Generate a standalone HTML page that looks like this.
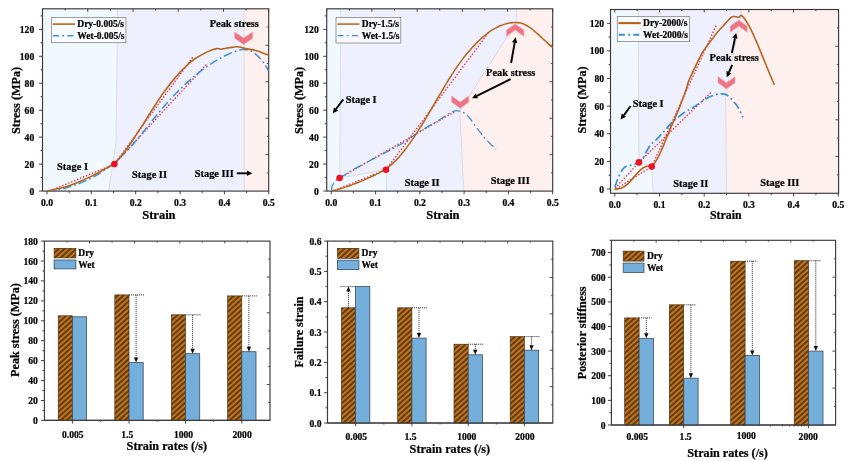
<!DOCTYPE html>
<html><head><meta charset="utf-8"><title>Figure</title>
<style>html,body{margin:0;padding:0;background:#fff;}svg{display:block;filter:blur(0.35px);}</style></head>
<body>
<svg width="864" height="461" viewBox="0 0 864 461">
<rect width="864" height="461" fill="#fff"/>
<defs>
<pattern id="hatch" patternUnits="userSpaceOnUse" width="3.9" height="3.9" patternTransform="rotate(-42)">
<rect width="3.9" height="3.9" fill="#c0751f"/>
<line x1="-1" y1="1.95" x2="4.9" y2="1.95" stroke="#2a1602" stroke-width="1.2"/>
</pattern>
</defs>
<clipPath id="c42"><rect x="42.5" y="8.8" width="226.2" height="182.29999999999998"/></clipPath>
<g clip-path="url(#c42)">
<polygon points="42.5,8.8 117.5,8.8 116.1,141.0 108.7,191.1 42.5,191.1" fill="#f1f9fe"/>
<polygon points="117.5,8.8 244.2,8.8 244.2,191.1 108.7,191.1 116.1,141.0" fill="#eef1fd"/>
<polygon points="244.2,8.8 268.7,8.8 268.7,191.1 244.2,191.1" fill="#fff0f0"/>
<polyline points="117.5,8.8 116.1,141.0 108.7,191.1" fill="none" stroke="#d0d3da" stroke-width="0.7"/>
<polyline points="244.2,8.8 244.2,191.1" fill="none" stroke="#d0d3da" stroke-width="0.7"/>
</g>
<rect x="42.5" y="8.8" width="226.2" height="182.29999999999998" fill="none" stroke="#3a3a3a" stroke-width="1.15"/>
<line x1="47.0" y1="191.1" x2="47.0" y2="194.29999999999998" stroke="#3a3a3a" stroke-width="0.95"/>
<line x1="42.5" y1="8.8" x2="42.5" y2="11.8" stroke="#3a3a3a" stroke-width="0.9"/>
<text x="47.0" y="202.2" font-size="9.6" text-anchor="middle" dominant-baseline="central" fill="#000" stroke="#000" stroke-width="0.22" font-family="Liberation Serif, serif" font-weight="bold">0.0</text>
<line x1="69.2" y1="191.1" x2="69.2" y2="193.1" stroke="#3a3a3a" stroke-width="0.95"/>
<line x1="65.1" y1="8.8" x2="65.1" y2="10.5" stroke="#3a3a3a" stroke-width="0.9"/>
<line x1="91.3" y1="191.1" x2="91.3" y2="194.29999999999998" stroke="#3a3a3a" stroke-width="0.95"/>
<line x1="87.7" y1="8.8" x2="87.7" y2="11.8" stroke="#3a3a3a" stroke-width="0.9"/>
<text x="91.3" y="202.2" font-size="9.6" text-anchor="middle" dominant-baseline="central" fill="#000" stroke="#000" stroke-width="0.22" font-family="Liberation Serif, serif" font-weight="bold">0.1</text>
<line x1="113.5" y1="191.1" x2="113.5" y2="193.1" stroke="#3a3a3a" stroke-width="0.95"/>
<line x1="110.4" y1="8.8" x2="110.4" y2="10.5" stroke="#3a3a3a" stroke-width="0.9"/>
<line x1="135.7" y1="191.1" x2="135.7" y2="194.29999999999998" stroke="#3a3a3a" stroke-width="0.95"/>
<line x1="133.0" y1="8.8" x2="133.0" y2="11.8" stroke="#3a3a3a" stroke-width="0.9"/>
<text x="135.7" y="202.2" font-size="9.6" text-anchor="middle" dominant-baseline="central" fill="#000" stroke="#000" stroke-width="0.22" font-family="Liberation Serif, serif" font-weight="bold">0.2</text>
<line x1="157.9" y1="191.1" x2="157.9" y2="193.1" stroke="#3a3a3a" stroke-width="0.95"/>
<line x1="155.6" y1="8.8" x2="155.6" y2="10.5" stroke="#3a3a3a" stroke-width="0.9"/>
<line x1="180.1" y1="191.1" x2="180.1" y2="194.29999999999998" stroke="#3a3a3a" stroke-width="0.95"/>
<line x1="178.2" y1="8.8" x2="178.2" y2="11.8" stroke="#3a3a3a" stroke-width="0.9"/>
<text x="180.1" y="202.2" font-size="9.6" text-anchor="middle" dominant-baseline="central" fill="#000" stroke="#000" stroke-width="0.22" font-family="Liberation Serif, serif" font-weight="bold">0.3</text>
<line x1="202.2" y1="191.1" x2="202.2" y2="193.1" stroke="#3a3a3a" stroke-width="0.95"/>
<line x1="200.8" y1="8.8" x2="200.8" y2="10.5" stroke="#3a3a3a" stroke-width="0.9"/>
<line x1="224.4" y1="191.1" x2="224.4" y2="194.29999999999998" stroke="#3a3a3a" stroke-width="0.95"/>
<line x1="223.5" y1="8.8" x2="223.5" y2="11.8" stroke="#3a3a3a" stroke-width="0.9"/>
<text x="224.4" y="202.2" font-size="9.6" text-anchor="middle" dominant-baseline="central" fill="#000" stroke="#000" stroke-width="0.22" font-family="Liberation Serif, serif" font-weight="bold">0.4</text>
<line x1="246.6" y1="191.1" x2="246.6" y2="193.1" stroke="#3a3a3a" stroke-width="0.95"/>
<line x1="246.1" y1="8.8" x2="246.1" y2="10.5" stroke="#3a3a3a" stroke-width="0.9"/>
<line x1="268.8" y1="191.1" x2="268.8" y2="194.29999999999998" stroke="#3a3a3a" stroke-width="0.95"/>
<line x1="268.7" y1="8.8" x2="268.7" y2="11.8" stroke="#3a3a3a" stroke-width="0.9"/>
<text x="268.8" y="202.2" font-size="9.6" text-anchor="middle" dominant-baseline="central" fill="#000" stroke="#000" stroke-width="0.22" font-family="Liberation Serif, serif" font-weight="bold">0.5</text>
<line x1="39.0" y1="191.0" x2="42.5" y2="191.0" stroke="#3a3a3a" stroke-width="0.95"/>
<text x="34.2" y="191.0" font-size="9.6" text-anchor="end" dominant-baseline="central" fill="#000" stroke="#000" stroke-width="0.22" font-family="Liberation Serif, serif" font-weight="bold">0</text>
<line x1="40.5" y1="177.5" x2="42.5" y2="177.5" stroke="#3a3a3a" stroke-width="0.95"/>
<line x1="39.0" y1="164.1" x2="42.5" y2="164.1" stroke="#3a3a3a" stroke-width="0.95"/>
<text x="34.2" y="164.1" font-size="9.6" text-anchor="end" dominant-baseline="central" fill="#000" stroke="#000" stroke-width="0.22" font-family="Liberation Serif, serif" font-weight="bold">20</text>
<line x1="40.5" y1="150.6" x2="42.5" y2="150.6" stroke="#3a3a3a" stroke-width="0.95"/>
<line x1="39.0" y1="137.1" x2="42.5" y2="137.1" stroke="#3a3a3a" stroke-width="0.95"/>
<text x="34.2" y="137.1" font-size="9.6" text-anchor="end" dominant-baseline="central" fill="#000" stroke="#000" stroke-width="0.22" font-family="Liberation Serif, serif" font-weight="bold">40</text>
<line x1="40.5" y1="123.7" x2="42.5" y2="123.7" stroke="#3a3a3a" stroke-width="0.95"/>
<line x1="39.0" y1="110.2" x2="42.5" y2="110.2" stroke="#3a3a3a" stroke-width="0.95"/>
<text x="34.2" y="110.2" font-size="9.6" text-anchor="end" dominant-baseline="central" fill="#000" stroke="#000" stroke-width="0.22" font-family="Liberation Serif, serif" font-weight="bold">60</text>
<line x1="40.5" y1="96.7" x2="42.5" y2="96.7" stroke="#3a3a3a" stroke-width="0.95"/>
<line x1="39.0" y1="83.2" x2="42.5" y2="83.2" stroke="#3a3a3a" stroke-width="0.95"/>
<text x="34.2" y="83.2" font-size="9.6" text-anchor="end" dominant-baseline="central" fill="#000" stroke="#000" stroke-width="0.22" font-family="Liberation Serif, serif" font-weight="bold">80</text>
<line x1="40.5" y1="69.8" x2="42.5" y2="69.8" stroke="#3a3a3a" stroke-width="0.95"/>
<line x1="39.0" y1="56.3" x2="42.5" y2="56.3" stroke="#3a3a3a" stroke-width="0.95"/>
<text x="34.2" y="56.3" font-size="9.6" text-anchor="end" dominant-baseline="central" fill="#000" stroke="#000" stroke-width="0.22" font-family="Liberation Serif, serif" font-weight="bold">100</text>
<line x1="40.5" y1="42.8" x2="42.5" y2="42.8" stroke="#3a3a3a" stroke-width="0.95"/>
<line x1="39.0" y1="29.4" x2="42.5" y2="29.4" stroke="#3a3a3a" stroke-width="0.95"/>
<text x="34.2" y="29.4" font-size="9.6" text-anchor="end" dominant-baseline="central" fill="#000" stroke="#000" stroke-width="0.22" font-family="Liberation Serif, serif" font-weight="bold">120</text>
<line x1="40.5" y1="15.9" x2="42.5" y2="15.9" stroke="#3a3a3a" stroke-width="0.95"/>
<line x1="266.9" y1="172.9" x2="268.7" y2="172.9" stroke="#3a3a3a" stroke-width="0.9"/>
<line x1="265.5" y1="154.6" x2="268.7" y2="154.6" stroke="#3a3a3a" stroke-width="0.9"/>
<line x1="266.9" y1="136.4" x2="268.7" y2="136.4" stroke="#3a3a3a" stroke-width="0.9"/>
<line x1="265.5" y1="118.2" x2="268.7" y2="118.2" stroke="#3a3a3a" stroke-width="0.9"/>
<line x1="266.9" y1="100.0" x2="268.7" y2="100.0" stroke="#3a3a3a" stroke-width="0.9"/>
<line x1="265.5" y1="81.7" x2="268.7" y2="81.7" stroke="#3a3a3a" stroke-width="0.9"/>
<line x1="266.9" y1="63.5" x2="268.7" y2="63.5" stroke="#3a3a3a" stroke-width="0.9"/>
<line x1="265.5" y1="45.3" x2="268.7" y2="45.3" stroke="#3a3a3a" stroke-width="0.9"/>
<line x1="266.9" y1="27.0" x2="268.7" y2="27.0" stroke="#3a3a3a" stroke-width="0.9"/>
<line x1="51.0" y1="190.4" x2="114.4" y2="164.1" stroke="#e63a48" stroke-width="1.65" stroke-linecap="round" stroke-dasharray="0.01 3.2"/>
<line x1="114.4" y1="164.1" x2="192.8" y2="57.2" stroke="#e63a48" stroke-width="1.65" stroke-linecap="round" stroke-dasharray="0.01 3.2"/>
<line x1="114.4" y1="164.1" x2="207.8" y2="63.0" stroke="#e63a48" stroke-width="1.65" stroke-linecap="round" stroke-dasharray="0.01 3.2"/>
<g clip-path="url(#c42)">
<path d="M47.0,191.0 C47.8,190.9 50.4,190.7 52.1,190.5 C53.8,190.3 55.5,190.1 57.2,189.8 C58.9,189.5 60.6,189.2 62.2,188.8 C63.9,188.4 65.6,188.0 67.3,187.5 C68.9,187.1 70.6,186.6 72.3,186.0 C73.9,185.5 75.6,184.9 77.2,184.3 C78.8,183.7 80.5,183.1 82.1,182.4 C83.7,181.7 85.3,181.0 86.9,180.2 C88.5,179.5 90.0,178.7 91.6,177.9 C93.1,177.1 94.7,176.2 96.2,175.3 C97.7,174.5 99.2,173.6 100.7,172.6 C102.1,171.7 103.6,170.7 105.0,169.8 C106.4,168.8 107.8,167.8 109.2,166.7 C110.6,165.7 112.0,164.6 113.3,163.6 C114.6,162.5 115.9,161.4 117.2,160.3 C118.5,159.1 119.7,158.0 120.9,156.8 C122.2,155.7 123.4,154.5 124.5,153.3 C125.7,152.1 126.9,150.9 128.0,149.7 C129.2,148.5 130.3,147.2 131.4,146.0 C132.6,144.7 133.7,143.5 134.8,142.2 C135.8,140.9 136.9,139.6 138.0,138.3 C139.1,137.0 140.2,135.7 141.2,134.4 C142.3,133.1 143.3,131.8 144.4,130.5 C145.5,129.1 146.5,127.8 147.6,126.5 C148.6,125.1 149.7,123.8 150.8,122.5 C151.8,121.1 152.9,119.8 154.0,118.4 C155.1,117.1 156.2,115.8 157.3,114.4 C158.4,113.1 159.5,111.8 160.6,110.4 C161.7,109.1 162.8,107.8 164.0,106.4 C165.1,105.1 166.3,103.8 167.5,102.5 C168.6,101.2 169.8,99.9 171.0,98.6 C172.2,97.3 173.4,96.0 174.6,94.7 C175.8,93.5 177.1,92.2 178.3,90.9 C179.6,89.7 180.8,88.5 182.1,87.2 C183.4,86.0 184.6,84.8 185.9,83.6 C187.2,82.4 188.5,81.2 189.9,80.1 C191.2,78.9 192.5,77.8 193.8,76.6 C195.2,75.5 196.5,74.4 197.9,73.3 C199.3,72.2 200.6,71.2 202.0,70.1 C203.4,69.1 204.8,68.1 206.2,67.1 C207.6,66.1 209.1,65.1 210.5,64.2 C211.9,63.2 213.4,62.3 214.8,61.4 C216.3,60.5 217.8,59.7 219.3,58.8 C220.7,58.0 222.2,57.2 223.7,56.4 C225.2,55.7 226.8,54.9 228.3,54.2 C229.8,53.5 231.4,52.8 232.9,52.2 C234.4,51.6 236.0,51.0 237.5,50.6 C239.1,50.1 240.6,49.8 242.2,49.6 C243.7,49.5 245.2,49.5 246.7,49.7 C248.2,50.0 249.7,50.4 251.1,51.1 C252.5,51.8 253.9,52.7 255.3,53.8 C256.6,54.8 257.9,56.1 259.2,57.4 C260.4,58.7 261.6,60.2 262.8,61.7 C263.9,63.2 265.0,64.7 266.0,66.3 C266.9,67.8 268.2,70.1 268.7,70.9" fill="none" stroke="#3f8fd0" stroke-width="1.5" stroke-dasharray="8.5 3 1.8 3"/>
<path d="M47.0,191.0 C49.2,190.5 56.0,189.2 60.0,188.2 C64.0,187.2 67.4,186.2 71.1,184.9 C74.8,183.6 78.5,182.0 82.2,180.4 C85.9,178.8 89.6,177.2 93.3,175.4 C97.0,173.6 101.6,170.8 104.4,169.3 C107.2,167.8 108.3,167.2 110.0,166.3 C111.7,165.4 113.1,165.1 114.4,164.1 C115.7,163.1 116.7,161.5 117.8,160.1 C119.0,158.8 120.1,157.4 121.2,156.1 C122.3,154.7 123.3,153.3 124.4,151.9 C125.5,150.5 126.5,149.1 127.5,147.7 C128.5,146.2 129.6,144.8 130.6,143.3 C131.6,141.9 132.6,140.4 133.5,139.0 C134.5,137.5 135.5,136.1 136.4,134.6 C137.4,133.1 138.4,131.6 139.3,130.1 C140.3,128.7 141.2,127.2 142.2,125.7 C143.1,124.2 144.0,122.7 145.0,121.2 C145.9,119.7 146.9,118.2 147.8,116.7 C148.7,115.2 149.7,113.7 150.6,112.2 C151.6,110.7 152.5,109.2 153.5,107.8 C154.4,106.3 155.4,104.8 156.3,103.3 C157.3,101.9 158.3,100.4 159.3,98.9 C160.2,97.5 161.2,96.0 162.2,94.6 C163.2,93.2 164.3,91.7 165.3,90.3 C166.3,88.9 167.4,87.5 168.4,86.1 C169.5,84.7 170.6,83.3 171.6,82.0 C172.7,80.6 173.9,79.3 175.0,77.9 C176.1,76.6 177.3,75.3 178.5,74.0 C179.6,72.7 180.8,71.4 182.1,70.2 C183.3,68.9 184.5,67.7 185.8,66.5 C187.1,65.3 188.4,64.1 189.7,62.9 C191.0,61.8 191.5,61.1 193.8,59.5 C196.1,57.9 200.8,55.2 203.8,53.6 C206.8,52.0 209.6,50.8 211.8,50.0 C214.0,49.2 215.1,48.8 216.8,48.6 C218.5,48.4 219.7,49.2 221.8,49.0 C224.0,48.8 227.0,48.0 229.7,47.6 C232.3,47.2 235.0,46.6 237.7,46.8 C240.4,47.0 242.7,48.0 245.7,48.6 C248.7,49.2 251.9,49.5 255.7,50.6 C259.5,51.7 266.5,54.5 268.7,55.3" fill="none" stroke="#b5651d" stroke-width="1.6"/>
</g>
<circle cx="114.4" cy="164.1" r="3.3" fill="#f01020"/>
<rect x="51.5" y="17.5" width="74.4" height="25.2" fill="#fff" fill-opacity="0.55" stroke="#777" stroke-width="0.7"/>
<line x1="52.7" y1="24.1" x2="75.0" y2="24.1" stroke="#b5651d" stroke-width="1.6"/>
<line x1="53.0" y1="35.7" x2="75.0" y2="35.7" stroke="#3f8fd0" stroke-width="1.5" stroke-dasharray="6 3.3 1.8 3.3"/>
<text x="77.3" y="24.1" font-size="9.5" text-anchor="start" dominant-baseline="central" fill="#000" stroke="#000" stroke-width="0.22" font-family="Liberation Serif, serif" font-weight="bold">Dry-0.005/s</text>
<text x="77.3" y="35.7" font-size="9.5" text-anchor="start" dominant-baseline="central" fill="#000" stroke="#000" stroke-width="0.22" font-family="Liberation Serif, serif" font-weight="bold">Wet-0.005/s</text>
<text x="72.5" y="166.3" font-size="10.4" text-anchor="middle" dominant-baseline="central" fill="#000" stroke="#000" stroke-width="0.22" font-family="Liberation Serif, serif" font-weight="bold">Stage I</text>
<text x="149.5" y="174.0" font-size="10.4" text-anchor="middle" dominant-baseline="central" fill="#000" stroke="#000" stroke-width="0.22" font-family="Liberation Serif, serif" font-weight="bold">Stage II</text>
<text x="214.2" y="173.7" font-size="10.4" text-anchor="middle" dominant-baseline="central" fill="#000" stroke="#000" stroke-width="0.22" font-family="Liberation Serif, serif" font-weight="bold">Stage III</text>
<text x="234.3" y="23.3" font-size="10.4" text-anchor="middle" dominant-baseline="central" fill="#000" stroke="#000" stroke-width="0.22" font-family="Liberation Serif, serif" font-weight="bold">Peak stress</text>
<text x="158.9" y="214.8" font-size="12.5" text-anchor="middle" dominant-baseline="central" fill="#000" stroke="#000" stroke-width="0.22" font-family="Liberation Serif, serif" font-weight="bold">Strain</text>
<text x="15.6" y="100.5" font-size="12.2" text-anchor="middle" dominant-baseline="central" fill="#000" stroke="#000" stroke-width="0.22" font-family="Liberation Serif, serif" font-weight="bold" transform="rotate(-90 15.6 100.5)">Stress (MPa)</text>
<polygon points="234.7,32.0 243.7,38.1 252.7,32.0 252.7,38.3 243.7,44.4 234.7,38.3" fill="#ec7485" stroke="#f4a3ae" stroke-width="0.7"/>
<line x1="236.7" y1="173.3" x2="246.9" y2="173.3" stroke="#000" stroke-width="1.9"/>
<polygon points="252.4,173.3 246.9,176.0 246.9,170.6" fill="#000"/>
<clipPath id="c326"><rect x="326.7" y="8.8" width="226.00000000000006" height="182.29999999999998"/></clipPath>
<g clip-path="url(#c326)">
<polygon points="326.7,8.8 552.7,8.8 552.7,191.1 326.7,191.1" fill="#eef1fd"/>
<polygon points="326.7,8.8 340.8,8.8 339.6,178.0 386.0,169.7 386.6,191.1 326.7,191.1" fill="#f1f9fe"/>
<polygon points="516.7,8.8 552.7,8.8 552.7,191.1 463.8,191.1 459.8,111.0 516.7,22.0" fill="#fff0f0"/>
<polyline points="340.8,8.8 339.6,178.0 386.0,169.7 386.6,191.1" fill="none" stroke="#d0d3da" stroke-width="0.7"/>
<polyline points="516.7,8.8 516.7,22.0 459.8,111.0 463.8,191.1" fill="none" stroke="#d0d3da" stroke-width="0.7"/>
</g>
<rect x="326.7" y="8.8" width="226.00000000000006" height="182.29999999999998" fill="none" stroke="#3a3a3a" stroke-width="1.15"/>
<line x1="331.3" y1="191.1" x2="331.3" y2="194.29999999999998" stroke="#3a3a3a" stroke-width="0.95"/>
<line x1="326.7" y1="8.8" x2="326.7" y2="11.8" stroke="#3a3a3a" stroke-width="0.9"/>
<text x="331.3" y="202.2" font-size="9.6" text-anchor="middle" dominant-baseline="central" fill="#000" stroke="#000" stroke-width="0.22" font-family="Liberation Serif, serif" font-weight="bold">0.0</text>
<line x1="353.4" y1="191.1" x2="353.4" y2="193.1" stroke="#3a3a3a" stroke-width="0.95"/>
<line x1="349.3" y1="8.8" x2="349.3" y2="10.5" stroke="#3a3a3a" stroke-width="0.9"/>
<line x1="375.6" y1="191.1" x2="375.6" y2="194.29999999999998" stroke="#3a3a3a" stroke-width="0.95"/>
<line x1="371.9" y1="8.8" x2="371.9" y2="11.8" stroke="#3a3a3a" stroke-width="0.9"/>
<text x="375.6" y="202.2" font-size="9.6" text-anchor="middle" dominant-baseline="central" fill="#000" stroke="#000" stroke-width="0.22" font-family="Liberation Serif, serif" font-weight="bold">0.1</text>
<line x1="397.7" y1="191.1" x2="397.7" y2="193.1" stroke="#3a3a3a" stroke-width="0.95"/>
<line x1="394.5" y1="8.8" x2="394.5" y2="10.5" stroke="#3a3a3a" stroke-width="0.9"/>
<line x1="419.9" y1="191.1" x2="419.9" y2="194.29999999999998" stroke="#3a3a3a" stroke-width="0.95"/>
<line x1="417.1" y1="8.8" x2="417.1" y2="11.8" stroke="#3a3a3a" stroke-width="0.9"/>
<text x="419.9" y="202.2" font-size="9.6" text-anchor="middle" dominant-baseline="central" fill="#000" stroke="#000" stroke-width="0.22" font-family="Liberation Serif, serif" font-weight="bold">0.2</text>
<line x1="442.0" y1="191.1" x2="442.0" y2="193.1" stroke="#3a3a3a" stroke-width="0.95"/>
<line x1="439.7" y1="8.8" x2="439.7" y2="10.5" stroke="#3a3a3a" stroke-width="0.9"/>
<line x1="464.1" y1="191.1" x2="464.1" y2="194.29999999999998" stroke="#3a3a3a" stroke-width="0.95"/>
<line x1="462.3" y1="8.8" x2="462.3" y2="11.8" stroke="#3a3a3a" stroke-width="0.9"/>
<text x="464.1" y="202.2" font-size="9.6" text-anchor="middle" dominant-baseline="central" fill="#000" stroke="#000" stroke-width="0.22" font-family="Liberation Serif, serif" font-weight="bold">0.3</text>
<line x1="486.3" y1="191.1" x2="486.3" y2="193.1" stroke="#3a3a3a" stroke-width="0.95"/>
<line x1="484.9" y1="8.8" x2="484.9" y2="10.5" stroke="#3a3a3a" stroke-width="0.9"/>
<line x1="508.4" y1="191.1" x2="508.4" y2="194.29999999999998" stroke="#3a3a3a" stroke-width="0.95"/>
<line x1="507.5" y1="8.8" x2="507.5" y2="11.8" stroke="#3a3a3a" stroke-width="0.9"/>
<text x="508.4" y="202.2" font-size="9.6" text-anchor="middle" dominant-baseline="central" fill="#000" stroke="#000" stroke-width="0.22" font-family="Liberation Serif, serif" font-weight="bold">0.4</text>
<line x1="530.6" y1="191.1" x2="530.6" y2="193.1" stroke="#3a3a3a" stroke-width="0.95"/>
<line x1="530.1" y1="8.8" x2="530.1" y2="10.5" stroke="#3a3a3a" stroke-width="0.9"/>
<line x1="552.7" y1="191.1" x2="552.7" y2="194.29999999999998" stroke="#3a3a3a" stroke-width="0.95"/>
<line x1="552.7" y1="8.8" x2="552.7" y2="11.8" stroke="#3a3a3a" stroke-width="0.9"/>
<text x="552.7" y="202.2" font-size="9.6" text-anchor="middle" dominant-baseline="central" fill="#000" stroke="#000" stroke-width="0.22" font-family="Liberation Serif, serif" font-weight="bold">0.5</text>
<line x1="323.2" y1="191.0" x2="326.7" y2="191.0" stroke="#3a3a3a" stroke-width="0.95"/>
<text x="318.7" y="191.0" font-size="9.6" text-anchor="end" dominant-baseline="central" fill="#000" stroke="#000" stroke-width="0.22" font-family="Liberation Serif, serif" font-weight="bold">0</text>
<line x1="324.7" y1="177.5" x2="326.7" y2="177.5" stroke="#3a3a3a" stroke-width="0.95"/>
<line x1="323.2" y1="164.1" x2="326.7" y2="164.1" stroke="#3a3a3a" stroke-width="0.95"/>
<text x="318.7" y="164.1" font-size="9.6" text-anchor="end" dominant-baseline="central" fill="#000" stroke="#000" stroke-width="0.22" font-family="Liberation Serif, serif" font-weight="bold">20</text>
<line x1="324.7" y1="150.6" x2="326.7" y2="150.6" stroke="#3a3a3a" stroke-width="0.95"/>
<line x1="323.2" y1="137.1" x2="326.7" y2="137.1" stroke="#3a3a3a" stroke-width="0.95"/>
<text x="318.7" y="137.1" font-size="9.6" text-anchor="end" dominant-baseline="central" fill="#000" stroke="#000" stroke-width="0.22" font-family="Liberation Serif, serif" font-weight="bold">40</text>
<line x1="324.7" y1="123.7" x2="326.7" y2="123.7" stroke="#3a3a3a" stroke-width="0.95"/>
<line x1="323.2" y1="110.2" x2="326.7" y2="110.2" stroke="#3a3a3a" stroke-width="0.95"/>
<text x="318.7" y="110.2" font-size="9.6" text-anchor="end" dominant-baseline="central" fill="#000" stroke="#000" stroke-width="0.22" font-family="Liberation Serif, serif" font-weight="bold">60</text>
<line x1="324.7" y1="96.7" x2="326.7" y2="96.7" stroke="#3a3a3a" stroke-width="0.95"/>
<line x1="323.2" y1="83.2" x2="326.7" y2="83.2" stroke="#3a3a3a" stroke-width="0.95"/>
<text x="318.7" y="83.2" font-size="9.6" text-anchor="end" dominant-baseline="central" fill="#000" stroke="#000" stroke-width="0.22" font-family="Liberation Serif, serif" font-weight="bold">80</text>
<line x1="324.7" y1="69.8" x2="326.7" y2="69.8" stroke="#3a3a3a" stroke-width="0.95"/>
<line x1="323.2" y1="56.3" x2="326.7" y2="56.3" stroke="#3a3a3a" stroke-width="0.95"/>
<text x="318.7" y="56.3" font-size="9.6" text-anchor="end" dominant-baseline="central" fill="#000" stroke="#000" stroke-width="0.22" font-family="Liberation Serif, serif" font-weight="bold">100</text>
<line x1="324.7" y1="42.8" x2="326.7" y2="42.8" stroke="#3a3a3a" stroke-width="0.95"/>
<line x1="323.2" y1="29.4" x2="326.7" y2="29.4" stroke="#3a3a3a" stroke-width="0.95"/>
<text x="318.7" y="29.4" font-size="9.6" text-anchor="end" dominant-baseline="central" fill="#000" stroke="#000" stroke-width="0.22" font-family="Liberation Serif, serif" font-weight="bold">120</text>
<line x1="324.7" y1="15.9" x2="326.7" y2="15.9" stroke="#3a3a3a" stroke-width="0.95"/>
<line x1="550.9000000000001" y1="172.9" x2="552.7" y2="172.9" stroke="#3a3a3a" stroke-width="0.9"/>
<line x1="549.5" y1="154.6" x2="552.7" y2="154.6" stroke="#3a3a3a" stroke-width="0.9"/>
<line x1="550.9000000000001" y1="136.4" x2="552.7" y2="136.4" stroke="#3a3a3a" stroke-width="0.9"/>
<line x1="549.5" y1="118.2" x2="552.7" y2="118.2" stroke="#3a3a3a" stroke-width="0.9"/>
<line x1="550.9000000000001" y1="100.0" x2="552.7" y2="100.0" stroke="#3a3a3a" stroke-width="0.9"/>
<line x1="549.5" y1="81.7" x2="552.7" y2="81.7" stroke="#3a3a3a" stroke-width="0.9"/>
<line x1="550.9000000000001" y1="63.5" x2="552.7" y2="63.5" stroke="#3a3a3a" stroke-width="0.9"/>
<line x1="549.5" y1="45.3" x2="552.7" y2="45.3" stroke="#3a3a3a" stroke-width="0.9"/>
<line x1="550.9000000000001" y1="27.0" x2="552.7" y2="27.0" stroke="#3a3a3a" stroke-width="0.9"/>
<line x1="335.0" y1="190.2" x2="386.0" y2="169.7" stroke="#e63a48" stroke-width="1.65" stroke-linecap="round" stroke-dasharray="0.01 3.2"/>
<line x1="386.0" y1="169.7" x2="488.3" y2="32.9" stroke="#e63a48" stroke-width="1.65" stroke-linecap="round" stroke-dasharray="0.01 3.2"/>
<line x1="339.6" y1="178.0" x2="456.0" y2="111.0" stroke="#e63a48" stroke-width="1.65" stroke-linecap="round" stroke-dasharray="0.01 3.2"/>
<g clip-path="url(#c326)">
<path d="M331.5,191.0 C331.6,190.4 331.6,188.5 331.8,187.5 C332.0,186.5 332.1,186.1 332.7,185.0 C333.3,183.9 334.4,182.2 335.5,181.0 C336.6,179.8 336.6,179.9 339.6,178.0 C342.7,176.1 348.7,172.2 353.8,169.3 C358.9,166.4 364.8,163.4 370.4,160.4 C375.9,157.4 381.5,154.6 387.1,151.6 C392.7,148.6 398.2,145.9 403.8,142.5 C409.4,139.1 414.8,134.7 420.4,131.1 C425.9,127.5 432.0,124.2 437.1,121.1 C442.2,118.0 448.0,114.1 451.1,112.4 C454.2,110.7 454.5,111.1 456.0,110.9 C457.5,110.7 458.4,110.6 460.0,111.1 C461.6,111.6 463.8,112.4 465.6,113.9 C467.5,115.4 468.9,117.2 471.1,120.0 C473.3,122.8 476.3,127.3 478.9,130.6 C481.5,133.9 483.8,136.9 486.7,140.0 C489.6,143.1 494.4,147.8 496.0,149.3" fill="none" stroke="#3f8fd0" stroke-width="1.3" stroke-dasharray="8.5 3 1.8 3"/>
<path d="M331.6,191.0 C332.4,190.8 334.8,190.3 336.5,189.9 C338.1,189.5 339.7,189.0 341.4,188.5 C343.0,188.0 344.7,187.5 346.4,186.9 C348.0,186.3 349.7,185.7 351.3,185.1 C353.0,184.5 354.7,183.8 356.3,183.2 C358.0,182.5 359.6,181.8 361.2,181.1 C362.9,180.5 364.5,179.8 366.1,179.1 C367.7,178.3 369.3,177.6 370.9,176.9 C372.4,176.2 374.0,175.4 375.5,174.7 C377.1,173.9 378.6,173.1 380.0,172.3 C381.5,171.4 383.0,170.6 384.4,169.7 C385.8,168.7 387.2,167.8 388.5,166.8 C389.9,165.8 391.2,164.7 392.4,163.6 C393.7,162.4 394.9,161.3 396.2,160.1 C397.4,158.8 398.5,157.6 399.7,156.3 C400.8,155.0 401.9,153.7 403.0,152.3 C404.1,151.0 405.2,149.6 406.2,148.2 C407.3,146.8 408.3,145.3 409.3,143.9 C410.3,142.5 411.3,141.1 412.3,139.6 C413.3,138.2 414.3,136.7 415.2,135.3 C416.2,133.8 417.1,132.4 418.1,130.9 C419.0,129.4 419.9,128.0 420.9,126.5 C421.8,125.0 422.7,123.5 423.6,122.1 C424.5,120.6 425.4,119.1 426.3,117.6 C427.2,116.1 428.1,114.6 428.9,113.1 C429.8,111.7 430.7,110.2 431.6,108.7 C432.4,107.2 433.3,105.7 434.2,104.2 C435.0,102.7 435.9,101.2 436.8,99.7 C437.7,98.2 438.5,96.7 439.4,95.2 C440.3,93.8 441.1,92.3 442.0,90.8 C442.9,89.3 443.8,87.8 444.6,86.3 C445.5,84.9 446.4,83.4 447.3,81.9 C448.2,80.5 449.1,79.0 450.0,77.5 C451.0,76.1 451.9,74.6 452.8,73.2 C453.8,71.7 454.7,70.3 455.7,68.9 C456.7,67.4 457.6,66.0 458.6,64.6 C459.6,63.2 460.6,61.8 461.7,60.4 C462.7,59.0 463.8,57.7 464.8,56.3 C465.9,54.9 467.0,53.6 468.1,52.3 C469.3,50.9 470.4,49.6 471.6,48.3 C472.8,47.0 474.0,45.7 475.2,44.4 C476.4,43.1 477.7,41.9 478.9,40.7 C480.2,39.4 481.5,38.2 482.8,37.1 C484.2,35.9 485.5,34.8 486.9,33.8 C488.3,32.7 489.7,31.7 491.1,30.7 C492.6,29.8 494.0,28.9 495.5,28.1 C497.0,27.2 498.5,26.5 500.1,25.8 C501.6,25.2 503.1,24.6 504.7,24.1 C506.3,23.6 507.9,23.2 509.5,22.9 C511.1,22.6 512.8,22.4 514.4,22.4 C516.0,22.4 517.7,22.5 519.3,22.8 C520.9,23.1 522.6,23.6 524.2,24.2 C525.8,24.9 527.4,25.8 528.9,26.8 C530.5,27.8 532.0,29.1 533.5,30.3 C535.0,31.5 536.4,32.9 537.8,34.1 C539.2,35.4 540.6,36.6 541.9,37.8 C543.2,39.0 544.4,40.2 545.7,41.3 C546.9,42.5 548.1,43.6 549.3,44.6 C550.5,45.7 552.2,47.4 552.8,47.9" fill="none" stroke="#b5651d" stroke-width="1.5"/>
</g>
<circle cx="339.6" cy="178.0" r="3.3" fill="#f01020"/>
<circle cx="386.0" cy="169.7" r="3.3" fill="#f01020"/>
<rect x="336" y="17.5" width="64.8" height="25.5" fill="#fff" fill-opacity="0.55" stroke="#777" stroke-width="0.7"/>
<line x1="337.2" y1="24.1" x2="359.5" y2="24.1" stroke="#b5651d" stroke-width="1.5"/>
<line x1="337.5" y1="35.7" x2="359.5" y2="35.7" stroke="#3f8fd0" stroke-width="1.3" stroke-dasharray="6 3.3 1.8 3.3"/>
<text x="361.8" y="24.1" font-size="9.5" text-anchor="start" dominant-baseline="central" fill="#000" stroke="#000" stroke-width="0.22" font-family="Liberation Serif, serif" font-weight="bold">Dry-1.5/s</text>
<text x="361.8" y="35.7" font-size="9.5" text-anchor="start" dominant-baseline="central" fill="#000" stroke="#000" stroke-width="0.22" font-family="Liberation Serif, serif" font-weight="bold">Wet-1.5/s</text>
<text x="361.2" y="99.4" font-size="10.4" text-anchor="middle" dominant-baseline="central" fill="#000" stroke="#000" stroke-width="0.22" font-family="Liberation Serif, serif" font-weight="bold">Stage I</text>
<text x="422.2" y="182.0" font-size="10.4" text-anchor="middle" dominant-baseline="central" fill="#000" stroke="#000" stroke-width="0.22" font-family="Liberation Serif, serif" font-weight="bold">Stage II</text>
<text x="510.2" y="180.6" font-size="10.4" text-anchor="middle" dominant-baseline="central" fill="#000" stroke="#000" stroke-width="0.22" font-family="Liberation Serif, serif" font-weight="bold">Stage III</text>
<text x="510.7" y="72.0" font-size="10.4" text-anchor="middle" dominant-baseline="central" fill="#000" stroke="#000" stroke-width="0.22" font-family="Liberation Serif, serif" font-weight="bold">Peak stress</text>
<text x="442.9" y="214.8" font-size="12.5" text-anchor="middle" dominant-baseline="central" fill="#000" stroke="#000" stroke-width="0.22" font-family="Liberation Serif, serif" font-weight="bold">Strain</text>
<text x="299.2" y="100.5" font-size="12.2" text-anchor="middle" dominant-baseline="central" fill="#000" stroke="#000" stroke-width="0.22" font-family="Liberation Serif, serif" font-weight="bold" transform="rotate(-90 299.2 100.5)">Stress (MPa)</text>
<polygon points="506.5,36.2 515.2,30.1 523.9,36.2 523.9,30.1 515.2,24.0 506.5,30.1" fill="#ec7485" stroke="#f4a3ae" stroke-width="0.7"/>
<polygon points="451.6,96.0 460.2,102.1 468.8,96.0 468.8,102.1 460.2,108.2 451.6,102.1" fill="#ec7485" stroke="#f4a3ae" stroke-width="0.7"/>
<line x1="511.1" y1="63.0" x2="514.7" y2="42.7" stroke="#000" stroke-width="1.9"/>
<polygon points="515.6,37.3 517.3,43.2 512.0,42.3" fill="#000"/>
<line x1="510.6" y1="79.1" x2="476.9" y2="95.9" stroke="#000" stroke-width="1.9"/>
<polygon points="472.0,98.3 475.7,93.4 478.1,98.3" fill="#000"/>
<line x1="343.3" y1="99.4" x2="336.0" y2="109.0" stroke="#000" stroke-width="1.9"/>
<polygon points="332.7,113.4 333.9,107.4 338.2,110.6" fill="#000"/>
<clipPath id="c610"><rect x="610.5" y="9.5" width="228.10000000000002" height="183.8"/></clipPath>
<g clip-path="url(#c610)">
<polygon points="610.5,9.5 838.6,9.5 838.6,193.3 610.5,193.3" fill="#eef1fd"/>
<polygon points="610.5,9.5 638.2,9.5 638.9,162.4 651.7,166.6 653.3,193.3 610.5,193.3" fill="#f1f9fe"/>
<polygon points="741.0,9.5 838.6,9.5 838.6,193.3 726.5,193.3 725.6,94.0 741.0,15.4" fill="#fff0f0"/>
<polyline points="638.2,9.5 638.9,162.4 651.7,166.6 653.3,193.3" fill="none" stroke="#d0d3da" stroke-width="0.7"/>
<polyline points="741.0,9.5 741.0,15.4 725.6,94.0 726.5,193.3" fill="none" stroke="#d0d3da" stroke-width="0.7"/>
</g>
<rect x="610.5" y="9.5" width="228.10000000000002" height="183.8" fill="none" stroke="#3a3a3a" stroke-width="1.15"/>
<line x1="614.8" y1="193.3" x2="614.8" y2="196.5" stroke="#3a3a3a" stroke-width="0.95"/>
<line x1="614.8" y1="9.5" x2="614.8" y2="12.5" stroke="#3a3a3a" stroke-width="0.9"/>
<text x="614.8" y="204.8" font-size="9.6" text-anchor="middle" dominant-baseline="central" fill="#000" stroke="#000" stroke-width="0.22" font-family="Liberation Serif, serif" font-weight="bold">0.0</text>
<line x1="637.1" y1="193.3" x2="637.1" y2="195.3" stroke="#3a3a3a" stroke-width="0.95"/>
<line x1="637.1" y1="9.5" x2="637.1" y2="11.2" stroke="#3a3a3a" stroke-width="0.9"/>
<line x1="659.5" y1="193.3" x2="659.5" y2="196.5" stroke="#3a3a3a" stroke-width="0.95"/>
<line x1="659.5" y1="9.5" x2="659.5" y2="12.5" stroke="#3a3a3a" stroke-width="0.9"/>
<text x="659.5" y="204.8" font-size="9.6" text-anchor="middle" dominant-baseline="central" fill="#000" stroke="#000" stroke-width="0.22" font-family="Liberation Serif, serif" font-weight="bold">0.1</text>
<line x1="681.8" y1="193.3" x2="681.8" y2="195.3" stroke="#3a3a3a" stroke-width="0.95"/>
<line x1="681.8" y1="9.5" x2="681.8" y2="11.2" stroke="#3a3a3a" stroke-width="0.9"/>
<line x1="704.2" y1="193.3" x2="704.2" y2="196.5" stroke="#3a3a3a" stroke-width="0.95"/>
<line x1="704.2" y1="9.5" x2="704.2" y2="12.5" stroke="#3a3a3a" stroke-width="0.9"/>
<text x="704.2" y="204.8" font-size="9.6" text-anchor="middle" dominant-baseline="central" fill="#000" stroke="#000" stroke-width="0.22" font-family="Liberation Serif, serif" font-weight="bold">0.2</text>
<line x1="726.5" y1="193.3" x2="726.5" y2="195.3" stroke="#3a3a3a" stroke-width="0.95"/>
<line x1="726.5" y1="9.5" x2="726.5" y2="11.2" stroke="#3a3a3a" stroke-width="0.9"/>
<line x1="748.9" y1="193.3" x2="748.9" y2="196.5" stroke="#3a3a3a" stroke-width="0.95"/>
<line x1="748.9" y1="9.5" x2="748.9" y2="12.5" stroke="#3a3a3a" stroke-width="0.9"/>
<text x="748.9" y="204.8" font-size="9.6" text-anchor="middle" dominant-baseline="central" fill="#000" stroke="#000" stroke-width="0.22" font-family="Liberation Serif, serif" font-weight="bold">0.3</text>
<line x1="771.2" y1="193.3" x2="771.2" y2="195.3" stroke="#3a3a3a" stroke-width="0.95"/>
<line x1="771.2" y1="9.5" x2="771.2" y2="11.2" stroke="#3a3a3a" stroke-width="0.9"/>
<line x1="793.6" y1="193.3" x2="793.6" y2="196.5" stroke="#3a3a3a" stroke-width="0.95"/>
<line x1="793.6" y1="9.5" x2="793.6" y2="12.5" stroke="#3a3a3a" stroke-width="0.9"/>
<text x="793.6" y="204.8" font-size="9.6" text-anchor="middle" dominant-baseline="central" fill="#000" stroke="#000" stroke-width="0.22" font-family="Liberation Serif, serif" font-weight="bold">0.4</text>
<line x1="815.9" y1="193.3" x2="815.9" y2="195.3" stroke="#3a3a3a" stroke-width="0.95"/>
<line x1="815.9" y1="9.5" x2="815.9" y2="11.2" stroke="#3a3a3a" stroke-width="0.9"/>
<line x1="838.3" y1="193.3" x2="838.3" y2="196.5" stroke="#3a3a3a" stroke-width="0.95"/>
<line x1="838.3" y1="9.5" x2="838.3" y2="12.5" stroke="#3a3a3a" stroke-width="0.9"/>
<text x="838.3" y="204.8" font-size="9.6" text-anchor="middle" dominant-baseline="central" fill="#000" stroke="#000" stroke-width="0.22" font-family="Liberation Serif, serif" font-weight="bold">0.5</text>
<line x1="607.0" y1="189.0" x2="610.5" y2="189.0" stroke="#3a3a3a" stroke-width="0.95"/>
<text x="604.1" y="189.0" font-size="9.6" text-anchor="end" dominant-baseline="central" fill="#000" stroke="#000" stroke-width="0.22" font-family="Liberation Serif, serif" font-weight="bold">0</text>
<line x1="608.5" y1="175.2" x2="610.5" y2="175.2" stroke="#3a3a3a" stroke-width="0.95"/>
<line x1="607.0" y1="161.4" x2="610.5" y2="161.4" stroke="#3a3a3a" stroke-width="0.95"/>
<text x="604.1" y="161.4" font-size="9.6" text-anchor="end" dominant-baseline="central" fill="#000" stroke="#000" stroke-width="0.22" font-family="Liberation Serif, serif" font-weight="bold">20</text>
<line x1="608.5" y1="147.6" x2="610.5" y2="147.6" stroke="#3a3a3a" stroke-width="0.95"/>
<line x1="607.0" y1="133.8" x2="610.5" y2="133.8" stroke="#3a3a3a" stroke-width="0.95"/>
<text x="604.1" y="133.8" font-size="9.6" text-anchor="end" dominant-baseline="central" fill="#000" stroke="#000" stroke-width="0.22" font-family="Liberation Serif, serif" font-weight="bold">40</text>
<line x1="608.5" y1="120.0" x2="610.5" y2="120.0" stroke="#3a3a3a" stroke-width="0.95"/>
<line x1="607.0" y1="106.1" x2="610.5" y2="106.1" stroke="#3a3a3a" stroke-width="0.95"/>
<text x="604.1" y="106.1" font-size="9.6" text-anchor="end" dominant-baseline="central" fill="#000" stroke="#000" stroke-width="0.22" font-family="Liberation Serif, serif" font-weight="bold">60</text>
<line x1="608.5" y1="92.3" x2="610.5" y2="92.3" stroke="#3a3a3a" stroke-width="0.95"/>
<line x1="607.0" y1="78.5" x2="610.5" y2="78.5" stroke="#3a3a3a" stroke-width="0.95"/>
<text x="604.1" y="78.5" font-size="9.6" text-anchor="end" dominant-baseline="central" fill="#000" stroke="#000" stroke-width="0.22" font-family="Liberation Serif, serif" font-weight="bold">80</text>
<line x1="608.5" y1="64.7" x2="610.5" y2="64.7" stroke="#3a3a3a" stroke-width="0.95"/>
<line x1="607.0" y1="50.9" x2="610.5" y2="50.9" stroke="#3a3a3a" stroke-width="0.95"/>
<text x="604.1" y="50.9" font-size="9.6" text-anchor="end" dominant-baseline="central" fill="#000" stroke="#000" stroke-width="0.22" font-family="Liberation Serif, serif" font-weight="bold">100</text>
<line x1="608.5" y1="37.1" x2="610.5" y2="37.1" stroke="#3a3a3a" stroke-width="0.95"/>
<line x1="607.0" y1="23.3" x2="610.5" y2="23.3" stroke="#3a3a3a" stroke-width="0.95"/>
<text x="604.1" y="23.3" font-size="9.6" text-anchor="end" dominant-baseline="central" fill="#000" stroke="#000" stroke-width="0.22" font-family="Liberation Serif, serif" font-weight="bold">120</text>
<line x1="836.8000000000001" y1="174.9" x2="838.6" y2="174.9" stroke="#3a3a3a" stroke-width="0.9"/>
<line x1="835.4" y1="156.5" x2="838.6" y2="156.5" stroke="#3a3a3a" stroke-width="0.9"/>
<line x1="836.8000000000001" y1="138.2" x2="838.6" y2="138.2" stroke="#3a3a3a" stroke-width="0.9"/>
<line x1="835.4" y1="119.8" x2="838.6" y2="119.8" stroke="#3a3a3a" stroke-width="0.9"/>
<line x1="836.8000000000001" y1="101.4" x2="838.6" y2="101.4" stroke="#3a3a3a" stroke-width="0.9"/>
<line x1="835.4" y1="83.0" x2="838.6" y2="83.0" stroke="#3a3a3a" stroke-width="0.9"/>
<line x1="836.8000000000001" y1="64.6" x2="838.6" y2="64.6" stroke="#3a3a3a" stroke-width="0.9"/>
<line x1="835.4" y1="46.3" x2="838.6" y2="46.3" stroke="#3a3a3a" stroke-width="0.9"/>
<line x1="836.8000000000001" y1="27.9" x2="838.6" y2="27.9" stroke="#3a3a3a" stroke-width="0.9"/>
<line x1="615.6" y1="187.7" x2="638.9" y2="162.4" stroke="#e63a48" stroke-width="1.65" stroke-linecap="round" stroke-dasharray="0.01 3.2"/>
<line x1="638.9" y1="162.4" x2="711.7" y2="91.7" stroke="#e63a48" stroke-width="1.65" stroke-linecap="round" stroke-dasharray="0.01 3.2"/>
<line x1="651.7" y1="166.6" x2="716.1" y2="25.7" stroke="#e63a48" stroke-width="1.65" stroke-linecap="round" stroke-dasharray="0.01 3.2"/>
<line x1="617.0" y1="188.3" x2="651.7" y2="166.6" stroke="#e63a48" stroke-width="1.65" stroke-linecap="round" stroke-dasharray="0.01 3.2"/>
<g clip-path="url(#c610)">
<path d="M615.0,187.1 C615.5,185.7 616.6,181.7 617.8,178.8 C619.0,175.9 620.7,172.0 622.2,169.9 C623.7,167.8 625.0,166.8 626.7,166.0 C628.4,165.2 630.2,165.5 632.2,164.9 C634.2,164.3 637.0,163.6 638.9,162.4 C640.8,161.2 642.0,159.6 643.3,157.7 C644.6,155.8 645.4,153.2 646.7,151.0 C648.0,148.8 649.6,146.1 651.1,144.3 C652.6,142.6 653.6,142.5 655.6,140.5 C657.6,138.5 660.5,135.2 663.3,132.2 C666.1,129.1 668.9,125.3 672.2,122.2 C675.5,119.1 679.6,115.9 683.3,113.3 C687.0,110.7 690.7,109.1 694.4,106.7 C698.1,104.3 702.3,100.9 705.6,98.9 C708.9,97.0 711.8,95.8 714.4,95.0 C717.0,94.2 719.0,93.9 721.1,93.9 C723.2,93.9 724.7,93.8 726.7,95.0 C728.7,96.2 731.3,98.8 733.3,101.1 C735.3,103.4 737.3,106.2 738.9,108.9 C740.5,111.6 742.3,116.1 743.0,117.5" fill="none" stroke="#3f8fd0" stroke-width="1.7" stroke-dasharray="8.5 3 1.8 3"/>
<path d="M614.4,189.3 C615.5,189.1 618.9,189.1 621.1,188.2 C623.3,187.3 625.6,185.7 627.8,183.8 C630.0,181.9 632.2,179.0 634.4,176.6 C636.6,174.2 639.0,171.0 641.1,169.3 C643.2,167.6 644.9,166.9 646.7,166.3 C648.5,165.8 650.0,167.1 651.7,166.0 C653.4,164.9 655.1,162.4 656.7,159.9 C658.3,157.4 659.7,154.2 661.1,151.0 C662.5,147.8 663.4,145.5 665.3,141.0 C667.2,136.5 670.1,129.3 672.4,124.0 C674.7,118.7 676.7,114.4 678.9,108.9 C681.1,103.4 683.9,95.7 685.6,91.0 C687.3,86.3 687.2,84.8 688.9,80.6 C690.6,76.4 693.4,70.7 695.6,66.1 C697.8,61.5 700.2,56.3 702.2,52.8 C704.2,49.3 706.1,47.3 707.8,45.0 C709.5,42.7 710.5,41.2 712.2,39.0 C713.9,36.8 715.9,34.0 717.8,31.8 C719.6,29.6 721.4,27.7 723.3,25.7 C725.1,23.7 727.4,21.1 728.9,19.6 C730.4,18.1 730.9,17.3 732.2,16.8 C733.5,16.3 735.6,16.7 736.7,16.8 C737.8,16.9 738.2,17.5 738.9,17.3 C739.6,17.1 740.2,15.2 741.1,15.4 C742.0,15.6 743.1,16.7 744.4,18.4 C745.7,20.1 747.4,23.0 748.9,25.7 C750.4,28.4 751.8,31.4 753.3,34.6 C754.8,37.8 755.9,40.4 757.8,44.8 C759.6,49.2 762.2,55.6 764.4,61.0 C766.6,66.4 769.4,73.2 771.1,77.2 C772.8,81.2 773.9,83.7 774.4,85.0" fill="none" stroke="#b5651d" stroke-width="1.6"/>
</g>
<circle cx="638.9" cy="162.4" r="3.3" fill="#f01020"/>
<circle cx="651.7" cy="166.6" r="3.3" fill="#f01020"/>
<rect x="617.3" y="16.5" width="72.3" height="25" fill="#fff" fill-opacity="0.55" stroke="#777" stroke-width="0.7"/>
<line x1="618.5" y1="23.1" x2="640.8" y2="23.1" stroke="#b5651d" stroke-width="2.1"/>
<line x1="618.8" y1="34.7" x2="640.8" y2="34.7" stroke="#3f8fd0" stroke-width="2.1" stroke-dasharray="6 3.3 1.8 3.3"/>
<text x="643.1" y="23.1" font-size="9.5" text-anchor="start" dominant-baseline="central" fill="#000" stroke="#000" stroke-width="0.22" font-family="Liberation Serif, serif" font-weight="bold">Dry-2000/s</text>
<text x="643.1" y="34.7" font-size="9.5" text-anchor="start" dominant-baseline="central" fill="#000" stroke="#000" stroke-width="0.22" font-family="Liberation Serif, serif" font-weight="bold">Wet-2000/s</text>
<text x="648.2" y="103.6" font-size="10.4" text-anchor="middle" dominant-baseline="central" fill="#000" stroke="#000" stroke-width="0.22" font-family="Liberation Serif, serif" font-weight="bold">Stage I</text>
<text x="690.8" y="183.6" font-size="10.4" text-anchor="middle" dominant-baseline="central" fill="#000" stroke="#000" stroke-width="0.22" font-family="Liberation Serif, serif" font-weight="bold">Stage II</text>
<text x="779.8" y="182.3" font-size="10.4" text-anchor="middle" dominant-baseline="central" fill="#000" stroke="#000" stroke-width="0.22" font-family="Liberation Serif, serif" font-weight="bold">Stage III</text>
<text x="734.2" y="57.8" font-size="10.4" text-anchor="middle" dominant-baseline="central" fill="#000" stroke="#000" stroke-width="0.22" font-family="Liberation Serif, serif" font-weight="bold">Peak stress</text>
<text x="725.8" y="215.2" font-size="11.8" text-anchor="middle" dominant-baseline="central" fill="#000" stroke="#000" stroke-width="0.22" font-family="Liberation Serif, serif" font-weight="bold">Strain</text>
<text x="582.0" y="100.0" font-size="12.2" text-anchor="middle" dominant-baseline="central" fill="#000" stroke="#000" stroke-width="0.22" font-family="Liberation Serif, serif" font-weight="bold" transform="rotate(-90 582 100)">Stress (MPa)</text>
<polygon points="730.2,32.3 738.7,26.2 747.2,32.3 747.2,26.2 738.7,20.1 730.2,26.2" fill="#ec7485" stroke="#f4a3ae" stroke-width="0.7"/>
<polygon points="718.0,76.7 726.5,82.8 735.0,76.7 735.0,82.8 726.5,88.9 718.0,82.8" fill="#ec7485" stroke="#f4a3ae" stroke-width="0.7"/>
<line x1="731.8" y1="53.3" x2="735.0" y2="38.3" stroke="#000" stroke-width="1.9"/>
<polygon points="736.1,32.9 737.6,38.8 732.3,37.7" fill="#000"/>
<line x1="732.2" y1="65.0" x2="729.0" y2="72.2" stroke="#000" stroke-width="1.9"/>
<polygon points="726.7,77.2 726.5,71.1 731.4,73.3" fill="#000"/>
<line x1="630.6" y1="106.0" x2="623.9" y2="115.2" stroke="#000" stroke-width="1.9"/>
<polygon points="620.6,119.6 621.7,113.6 626.0,116.8" fill="#000"/>
<rect x="44.4" y="241.1" width="225.6" height="179.29999999999998" fill="#fff" stroke="#3a3a3a" stroke-width="1.15"/>
<line x1="40.9" y1="420.4" x2="44.4" y2="420.4" stroke="#3a3a3a" stroke-width="0.95"/>
<text x="37.9" y="420.4" font-size="9.6" text-anchor="end" dominant-baseline="central" fill="#000" stroke="#000" stroke-width="0.22" font-family="Liberation Serif, serif" font-weight="bold">0</text>
<line x1="42.4" y1="410.4" x2="44.4" y2="410.4" stroke="#3a3a3a" stroke-width="0.95"/>
<line x1="40.9" y1="400.5" x2="44.4" y2="400.5" stroke="#3a3a3a" stroke-width="0.95"/>
<text x="37.9" y="400.5" font-size="9.6" text-anchor="end" dominant-baseline="central" fill="#000" stroke="#000" stroke-width="0.22" font-family="Liberation Serif, serif" font-weight="bold">20</text>
<line x1="42.4" y1="390.5" x2="44.4" y2="390.5" stroke="#3a3a3a" stroke-width="0.95"/>
<line x1="40.9" y1="380.6" x2="44.4" y2="380.6" stroke="#3a3a3a" stroke-width="0.95"/>
<text x="37.9" y="380.6" font-size="9.6" text-anchor="end" dominant-baseline="central" fill="#000" stroke="#000" stroke-width="0.22" font-family="Liberation Serif, serif" font-weight="bold">40</text>
<line x1="42.4" y1="370.6" x2="44.4" y2="370.6" stroke="#3a3a3a" stroke-width="0.95"/>
<line x1="40.9" y1="360.6" x2="44.4" y2="360.6" stroke="#3a3a3a" stroke-width="0.95"/>
<text x="37.9" y="360.6" font-size="9.6" text-anchor="end" dominant-baseline="central" fill="#000" stroke="#000" stroke-width="0.22" font-family="Liberation Serif, serif" font-weight="bold">60</text>
<line x1="42.4" y1="350.7" x2="44.4" y2="350.7" stroke="#3a3a3a" stroke-width="0.95"/>
<line x1="40.9" y1="340.7" x2="44.4" y2="340.7" stroke="#3a3a3a" stroke-width="0.95"/>
<text x="37.9" y="340.7" font-size="9.6" text-anchor="end" dominant-baseline="central" fill="#000" stroke="#000" stroke-width="0.22" font-family="Liberation Serif, serif" font-weight="bold">80</text>
<line x1="42.4" y1="330.8" x2="44.4" y2="330.8" stroke="#3a3a3a" stroke-width="0.95"/>
<line x1="40.9" y1="320.8" x2="44.4" y2="320.8" stroke="#3a3a3a" stroke-width="0.95"/>
<text x="37.9" y="320.8" font-size="9.6" text-anchor="end" dominant-baseline="central" fill="#000" stroke="#000" stroke-width="0.22" font-family="Liberation Serif, serif" font-weight="bold">100</text>
<line x1="42.4" y1="310.8" x2="44.4" y2="310.8" stroke="#3a3a3a" stroke-width="0.95"/>
<line x1="40.9" y1="300.9" x2="44.4" y2="300.9" stroke="#3a3a3a" stroke-width="0.95"/>
<text x="37.9" y="300.9" font-size="9.6" text-anchor="end" dominant-baseline="central" fill="#000" stroke="#000" stroke-width="0.22" font-family="Liberation Serif, serif" font-weight="bold">120</text>
<line x1="42.4" y1="290.9" x2="44.4" y2="290.9" stroke="#3a3a3a" stroke-width="0.95"/>
<line x1="40.9" y1="280.9" x2="44.4" y2="280.9" stroke="#3a3a3a" stroke-width="0.95"/>
<text x="37.9" y="280.9" font-size="9.6" text-anchor="end" dominant-baseline="central" fill="#000" stroke="#000" stroke-width="0.22" font-family="Liberation Serif, serif" font-weight="bold">140</text>
<line x1="42.4" y1="271.0" x2="44.4" y2="271.0" stroke="#3a3a3a" stroke-width="0.95"/>
<line x1="40.9" y1="261.0" x2="44.4" y2="261.0" stroke="#3a3a3a" stroke-width="0.95"/>
<text x="37.9" y="261.0" font-size="9.6" text-anchor="end" dominant-baseline="central" fill="#000" stroke="#000" stroke-width="0.22" font-family="Liberation Serif, serif" font-weight="bold">160</text>
<line x1="42.4" y1="251.1" x2="44.4" y2="251.1" stroke="#3a3a3a" stroke-width="0.95"/>
<line x1="40.9" y1="241.1" x2="44.4" y2="241.1" stroke="#3a3a3a" stroke-width="0.95"/>
<text x="37.9" y="241.1" font-size="9.6" text-anchor="end" dominant-baseline="central" fill="#000" stroke="#000" stroke-width="0.22" font-family="Liberation Serif, serif" font-weight="bold">180</text>
<line x1="268.2" y1="402.5" x2="270" y2="402.5" stroke="#3a3a3a" stroke-width="0.9"/>
<line x1="266.8" y1="384.5" x2="270" y2="384.5" stroke="#3a3a3a" stroke-width="0.9"/>
<line x1="268.2" y1="366.6" x2="270" y2="366.6" stroke="#3a3a3a" stroke-width="0.9"/>
<line x1="266.8" y1="348.7" x2="270" y2="348.7" stroke="#3a3a3a" stroke-width="0.9"/>
<line x1="268.2" y1="330.8" x2="270" y2="330.8" stroke="#3a3a3a" stroke-width="0.9"/>
<line x1="266.8" y1="312.8" x2="270" y2="312.8" stroke="#3a3a3a" stroke-width="0.9"/>
<line x1="268.2" y1="294.9" x2="270" y2="294.9" stroke="#3a3a3a" stroke-width="0.9"/>
<line x1="266.8" y1="277.0" x2="270" y2="277.0" stroke="#3a3a3a" stroke-width="0.9"/>
<line x1="268.2" y1="259.0" x2="270" y2="259.0" stroke="#3a3a3a" stroke-width="0.9"/>
<line x1="72.4" y1="420.4" x2="72.4" y2="423.59999999999997" stroke="#3a3a3a" stroke-width="0.95"/>
<line x1="100.7" y1="420.4" x2="100.7" y2="422.0" stroke="#3a3a3a" stroke-width="0.9"/>
<rect x="58.2" y="315.8" width="14.2" height="104.6" fill="url(#hatch)" stroke="#3a2408" stroke-width="0.6"/>
<rect x="72.4" y="316.8" width="14.2" height="103.6" fill="#74aedb" stroke="#3b4d5c" stroke-width="0.8"/>
<text x="72.8" y="434.4" font-size="9.6" text-anchor="middle" dominant-baseline="central" fill="#000" stroke="#000" stroke-width="0.22" font-family="Liberation Serif, serif" font-weight="bold">0.005</text>
<line x1="129.0" y1="420.4" x2="129.0" y2="423.59999999999997" stroke="#3a3a3a" stroke-width="0.95"/>
<line x1="157.2" y1="420.4" x2="157.2" y2="422.0" stroke="#3a3a3a" stroke-width="0.9"/>
<rect x="114.8" y="294.9" width="14.2" height="125.5" fill="url(#hatch)" stroke="#3a2408" stroke-width="0.6"/>
<rect x="129.0" y="362.6" width="14.2" height="57.8" fill="#74aedb" stroke="#3b4d5c" stroke-width="0.8"/>
<line x1="129.0" y1="294.9" x2="144.2" y2="294.9" stroke="#222" stroke-width="1" stroke-dasharray="1 1"/>
<line x1="136.1" y1="294.9" x2="136.1" y2="358.6" stroke="#222" stroke-width="1" stroke-dasharray="1 1"/>
<polygon points="136.1,362.6 133.9,357.6 138.3,357.6" fill="#111"/>
<text x="127.3" y="434.3" font-size="9.6" text-anchor="middle" dominant-baseline="central" fill="#000" stroke="#000" stroke-width="0.22" font-family="Liberation Serif, serif" font-weight="bold">1.5</text>
<line x1="185.5" y1="420.4" x2="185.5" y2="423.59999999999997" stroke="#3a3a3a" stroke-width="0.95"/>
<line x1="213.7" y1="420.4" x2="213.7" y2="422.0" stroke="#3a3a3a" stroke-width="0.9"/>
<rect x="171.3" y="314.8" width="14.2" height="105.6" fill="url(#hatch)" stroke="#3a2408" stroke-width="0.6"/>
<rect x="185.5" y="353.7" width="14.2" height="66.7" fill="#74aedb" stroke="#3b4d5c" stroke-width="0.8"/>
<line x1="185.5" y1="314.8" x2="200.7" y2="314.8" stroke="#222" stroke-width="1" stroke-dasharray="1 1"/>
<line x1="192.6" y1="314.8" x2="192.6" y2="349.7" stroke="#222" stroke-width="1" stroke-dasharray="1 1"/>
<polygon points="192.6,353.7 190.4,348.7 194.8,348.7" fill="#111"/>
<text x="183.5" y="434.3" font-size="9.6" text-anchor="middle" dominant-baseline="central" fill="#000" stroke="#000" stroke-width="0.22" font-family="Liberation Serif, serif" font-weight="bold">1000</text>
<line x1="241.8" y1="420.4" x2="241.8" y2="423.59999999999997" stroke="#3a3a3a" stroke-width="0.95"/>
<rect x="227.6" y="295.9" width="14.2" height="124.5" fill="url(#hatch)" stroke="#3a2408" stroke-width="0.6"/>
<rect x="241.8" y="351.7" width="14.2" height="68.7" fill="#74aedb" stroke="#3b4d5c" stroke-width="0.8"/>
<line x1="241.8" y1="295.9" x2="257.0" y2="295.9" stroke="#222" stroke-width="1" stroke-dasharray="1 1"/>
<line x1="248.9" y1="295.9" x2="248.9" y2="347.7" stroke="#222" stroke-width="1" stroke-dasharray="1 1"/>
<polygon points="248.9,351.7 246.7,346.7 251.1,346.7" fill="#111"/>
<text x="242.1" y="434.0" font-size="9.6" text-anchor="middle" dominant-baseline="central" fill="#000" stroke="#000" stroke-width="0.22" font-family="Liberation Serif, serif" font-weight="bold">2000</text>
<line x1="44.4" y1="420.4" x2="270" y2="420.4" stroke="#3a3a3a" stroke-width="1.15"/>
<line x1="67.0" y1="241.1" x2="67.0" y2="242.6" stroke="#3a3a3a" stroke-width="0.9"/>
<line x1="89.5" y1="241.1" x2="89.5" y2="243.5" stroke="#3a3a3a" stroke-width="0.9"/>
<line x1="112.1" y1="241.1" x2="112.1" y2="242.6" stroke="#3a3a3a" stroke-width="0.9"/>
<line x1="134.6" y1="241.1" x2="134.6" y2="243.5" stroke="#3a3a3a" stroke-width="0.9"/>
<line x1="157.2" y1="241.1" x2="157.2" y2="242.6" stroke="#3a3a3a" stroke-width="0.9"/>
<line x1="179.8" y1="241.1" x2="179.8" y2="243.5" stroke="#3a3a3a" stroke-width="0.9"/>
<line x1="202.3" y1="241.1" x2="202.3" y2="242.6" stroke="#3a3a3a" stroke-width="0.9"/>
<line x1="224.9" y1="241.1" x2="224.9" y2="243.5" stroke="#3a3a3a" stroke-width="0.9"/>
<line x1="247.4" y1="241.1" x2="247.4" y2="242.6" stroke="#3a3a3a" stroke-width="0.9"/>
<rect x="54.1" y="248.3" width="21.8" height="9.6" fill="url(#hatch)" stroke="#3a2408" stroke-width="0.6"/>
<rect x="54.1" y="260.0" width="21.8" height="8.9" fill="#74aedb" stroke="#3b4d5c" stroke-width="0.8"/>
<text x="78.3" y="253.1" font-size="9.5" text-anchor="start" dominant-baseline="central" fill="#000" stroke="#000" stroke-width="0.22" font-family="Liberation Serif, serif" font-weight="bold">Dry</text>
<text x="78.3" y="264.8" font-size="9.5" text-anchor="start" dominant-baseline="central" fill="#000" stroke="#000" stroke-width="0.22" font-family="Liberation Serif, serif" font-weight="bold">Wet</text>
<text x="166.9" y="445.8" font-size="12.2" text-anchor="middle" dominant-baseline="central" fill="#000" stroke="#000" stroke-width="0.22" font-family="Liberation Serif, serif" font-weight="bold">Strain rates (/s)</text>
<text x="15.0" y="330.0" font-size="12.2" text-anchor="middle" dominant-baseline="central" fill="#000" stroke="#000" stroke-width="0.22" font-family="Liberation Serif, serif" font-weight="bold" transform="rotate(-90 15 330)">Peak stress (MPa)</text>
<rect x="327.5" y="241.1" width="225.29999999999995" height="181.9" fill="#fff" stroke="#3a3a3a" stroke-width="1.15"/>
<line x1="324.0" y1="423.0" x2="327.5" y2="423.0" stroke="#3a3a3a" stroke-width="0.95"/>
<text x="321.5" y="423.0" font-size="9.6" text-anchor="end" dominant-baseline="central" fill="#000" stroke="#000" stroke-width="0.22" font-family="Liberation Serif, serif" font-weight="bold">0.0</text>
<line x1="325.5" y1="407.8" x2="327.5" y2="407.8" stroke="#3a3a3a" stroke-width="0.95"/>
<line x1="324.0" y1="392.7" x2="327.5" y2="392.7" stroke="#3a3a3a" stroke-width="0.95"/>
<text x="321.5" y="392.7" font-size="9.6" text-anchor="end" dominant-baseline="central" fill="#000" stroke="#000" stroke-width="0.22" font-family="Liberation Serif, serif" font-weight="bold">0.1</text>
<line x1="325.5" y1="377.5" x2="327.5" y2="377.5" stroke="#3a3a3a" stroke-width="0.95"/>
<line x1="324.0" y1="362.4" x2="327.5" y2="362.4" stroke="#3a3a3a" stroke-width="0.95"/>
<text x="321.5" y="362.4" font-size="9.6" text-anchor="end" dominant-baseline="central" fill="#000" stroke="#000" stroke-width="0.22" font-family="Liberation Serif, serif" font-weight="bold">0.2</text>
<line x1="325.5" y1="347.2" x2="327.5" y2="347.2" stroke="#3a3a3a" stroke-width="0.95"/>
<line x1="324.0" y1="332.0" x2="327.5" y2="332.0" stroke="#3a3a3a" stroke-width="0.95"/>
<text x="321.5" y="332.0" font-size="9.6" text-anchor="end" dominant-baseline="central" fill="#000" stroke="#000" stroke-width="0.22" font-family="Liberation Serif, serif" font-weight="bold">0.3</text>
<line x1="325.5" y1="316.9" x2="327.5" y2="316.9" stroke="#3a3a3a" stroke-width="0.95"/>
<line x1="324.0" y1="301.7" x2="327.5" y2="301.7" stroke="#3a3a3a" stroke-width="0.95"/>
<text x="321.5" y="301.7" font-size="9.6" text-anchor="end" dominant-baseline="central" fill="#000" stroke="#000" stroke-width="0.22" font-family="Liberation Serif, serif" font-weight="bold">0.4</text>
<line x1="325.5" y1="286.6" x2="327.5" y2="286.6" stroke="#3a3a3a" stroke-width="0.95"/>
<line x1="324.0" y1="271.4" x2="327.5" y2="271.4" stroke="#3a3a3a" stroke-width="0.95"/>
<text x="321.5" y="271.4" font-size="9.6" text-anchor="end" dominant-baseline="central" fill="#000" stroke="#000" stroke-width="0.22" font-family="Liberation Serif, serif" font-weight="bold">0.5</text>
<line x1="325.5" y1="256.2" x2="327.5" y2="256.2" stroke="#3a3a3a" stroke-width="0.95"/>
<line x1="324.0" y1="241.1" x2="327.5" y2="241.1" stroke="#3a3a3a" stroke-width="0.95"/>
<text x="321.5" y="241.1" font-size="9.6" text-anchor="end" dominant-baseline="central" fill="#000" stroke="#000" stroke-width="0.22" font-family="Liberation Serif, serif" font-weight="bold">0.6</text>
<line x1="551.0" y1="404.8" x2="552.8" y2="404.8" stroke="#3a3a3a" stroke-width="0.9"/>
<line x1="549.5999999999999" y1="386.6" x2="552.8" y2="386.6" stroke="#3a3a3a" stroke-width="0.9"/>
<line x1="551.0" y1="368.4" x2="552.8" y2="368.4" stroke="#3a3a3a" stroke-width="0.9"/>
<line x1="549.5999999999999" y1="350.2" x2="552.8" y2="350.2" stroke="#3a3a3a" stroke-width="0.9"/>
<line x1="551.0" y1="332.1" x2="552.8" y2="332.1" stroke="#3a3a3a" stroke-width="0.9"/>
<line x1="549.5999999999999" y1="313.9" x2="552.8" y2="313.9" stroke="#3a3a3a" stroke-width="0.9"/>
<line x1="551.0" y1="295.7" x2="552.8" y2="295.7" stroke="#3a3a3a" stroke-width="0.9"/>
<line x1="549.5999999999999" y1="277.5" x2="552.8" y2="277.5" stroke="#3a3a3a" stroke-width="0.9"/>
<line x1="551.0" y1="259.3" x2="552.8" y2="259.3" stroke="#3a3a3a" stroke-width="0.9"/>
<line x1="355.6" y1="423" x2="355.6" y2="426.2" stroke="#3a3a3a" stroke-width="0.95"/>
<line x1="383.8" y1="423" x2="383.8" y2="424.6" stroke="#3a3a3a" stroke-width="0.9"/>
<rect x="341.4" y="307.8" width="14.2" height="115.2" fill="url(#hatch)" stroke="#3a2408" stroke-width="0.6"/>
<rect x="355.6" y="286.6" width="14.2" height="136.4" fill="#74aedb" stroke="#3b4d5c" stroke-width="0.8"/>
<line x1="340.4" y1="286.6" x2="355.6" y2="286.6" stroke="#222" stroke-width="1" stroke-dasharray="1 1"/>
<line x1="348.5" y1="307.8" x2="348.5" y2="290.6" stroke="#222" stroke-width="1" stroke-dasharray="1 1"/>
<polygon points="348.5,286.6 346.3,291.6 350.7,291.6" fill="#111"/>
<text x="356.3" y="436.5" font-size="9.6" text-anchor="middle" dominant-baseline="central" fill="#000" stroke="#000" stroke-width="0.22" font-family="Liberation Serif, serif" font-weight="bold">0.005</text>
<line x1="411.9" y1="423" x2="411.9" y2="426.2" stroke="#3a3a3a" stroke-width="0.95"/>
<line x1="440.0" y1="423" x2="440.0" y2="424.6" stroke="#3a3a3a" stroke-width="0.9"/>
<rect x="397.7" y="307.8" width="14.2" height="115.2" fill="url(#hatch)" stroke="#3a2408" stroke-width="0.6"/>
<rect x="411.9" y="338.1" width="14.2" height="84.9" fill="#74aedb" stroke="#3b4d5c" stroke-width="0.8"/>
<line x1="411.9" y1="307.8" x2="427.1" y2="307.8" stroke="#222" stroke-width="1" stroke-dasharray="1 1"/>
<line x1="419.0" y1="307.8" x2="419.0" y2="334.1" stroke="#222" stroke-width="1" stroke-dasharray="1 1"/>
<polygon points="419.0,338.1 416.8,333.1 421.2,333.1" fill="#111"/>
<text x="410.5" y="436.5" font-size="9.6" text-anchor="middle" dominant-baseline="central" fill="#000" stroke="#000" stroke-width="0.22" font-family="Liberation Serif, serif" font-weight="bold">1.5</text>
<line x1="468.2" y1="423" x2="468.2" y2="426.2" stroke="#3a3a3a" stroke-width="0.95"/>
<line x1="496.3" y1="423" x2="496.3" y2="424.6" stroke="#3a3a3a" stroke-width="0.9"/>
<rect x="454.0" y="344.2" width="14.2" height="78.8" fill="url(#hatch)" stroke="#3a2408" stroke-width="0.6"/>
<rect x="468.2" y="354.8" width="14.2" height="68.2" fill="#74aedb" stroke="#3b4d5c" stroke-width="0.8"/>
<line x1="468.2" y1="344.2" x2="483.4" y2="344.2" stroke="#222" stroke-width="1" stroke-dasharray="1 1"/>
<line x1="475.3" y1="344.2" x2="475.3" y2="350.8" stroke="#222" stroke-width="1" stroke-dasharray="1 1"/>
<polygon points="475.3,354.8 473.1,349.8 477.5,349.8" fill="#111"/>
<text x="466.8" y="436.5" font-size="9.6" text-anchor="middle" dominant-baseline="central" fill="#000" stroke="#000" stroke-width="0.22" font-family="Liberation Serif, serif" font-weight="bold">1000</text>
<line x1="524.4" y1="423" x2="524.4" y2="426.2" stroke="#3a3a3a" stroke-width="0.95"/>
<rect x="510.2" y="336.6" width="14.2" height="86.4" fill="url(#hatch)" stroke="#3a2408" stroke-width="0.6"/>
<rect x="524.4" y="350.2" width="14.2" height="72.8" fill="#74aedb" stroke="#3b4d5c" stroke-width="0.8"/>
<line x1="524.4" y1="336.6" x2="539.6" y2="336.6" stroke="#222" stroke-width="1" stroke-dasharray="1 1"/>
<line x1="531.5" y1="336.6" x2="531.5" y2="346.2" stroke="#222" stroke-width="1" stroke-dasharray="1 1"/>
<polygon points="531.5,350.2 529.3,345.2 533.7,345.2" fill="#111"/>
<text x="524.9" y="436.5" font-size="9.6" text-anchor="middle" dominant-baseline="central" fill="#000" stroke="#000" stroke-width="0.22" font-family="Liberation Serif, serif" font-weight="bold">2000</text>
<line x1="327.5" y1="423" x2="552.8" y2="423" stroke="#3a3a3a" stroke-width="1.15"/>
<line x1="350.0" y1="241.1" x2="350.0" y2="242.6" stroke="#3a3a3a" stroke-width="0.9"/>
<line x1="372.6" y1="241.1" x2="372.6" y2="243.5" stroke="#3a3a3a" stroke-width="0.9"/>
<line x1="395.1" y1="241.1" x2="395.1" y2="242.6" stroke="#3a3a3a" stroke-width="0.9"/>
<line x1="417.6" y1="241.1" x2="417.6" y2="243.5" stroke="#3a3a3a" stroke-width="0.9"/>
<line x1="440.1" y1="241.1" x2="440.1" y2="242.6" stroke="#3a3a3a" stroke-width="0.9"/>
<line x1="462.7" y1="241.1" x2="462.7" y2="243.5" stroke="#3a3a3a" stroke-width="0.9"/>
<line x1="485.2" y1="241.1" x2="485.2" y2="242.6" stroke="#3a3a3a" stroke-width="0.9"/>
<line x1="507.7" y1="241.1" x2="507.7" y2="243.5" stroke="#3a3a3a" stroke-width="0.9"/>
<line x1="530.3" y1="241.1" x2="530.3" y2="242.6" stroke="#3a3a3a" stroke-width="0.9"/>
<rect x="337.4" y="248.3" width="21.5" height="10" fill="url(#hatch)" stroke="#3a2408" stroke-width="0.6"/>
<rect x="337.4" y="260.2" width="21.5" height="9.3" fill="#74aedb" stroke="#3b4d5c" stroke-width="0.8"/>
<text x="361.6" y="253.3" font-size="9.5" text-anchor="start" dominant-baseline="central" fill="#000" stroke="#000" stroke-width="0.22" font-family="Liberation Serif, serif" font-weight="bold">Dry</text>
<text x="361.6" y="265.2" font-size="9.5" text-anchor="start" dominant-baseline="central" fill="#000" stroke="#000" stroke-width="0.22" font-family="Liberation Serif, serif" font-weight="bold">Wet</text>
<text x="449.9" y="448.7" font-size="12.2" text-anchor="middle" dominant-baseline="central" fill="#000" stroke="#000" stroke-width="0.22" font-family="Liberation Serif, serif" font-weight="bold">Strain rates (/s)</text>
<text x="299.0" y="332.0" font-size="12.2" text-anchor="middle" dominant-baseline="central" fill="#000" stroke="#000" stroke-width="0.22" font-family="Liberation Serif, serif" font-weight="bold" transform="rotate(-90 299 332)">Failure strain</text>
<rect x="611.4" y="240.3" width="224.20000000000005" height="184.7" fill="#fff" stroke="#3a3a3a" stroke-width="1.15"/>
<line x1="607.9" y1="425.0" x2="611.4" y2="425.0" stroke="#3a3a3a" stroke-width="0.95"/>
<text x="605.6" y="425.0" font-size="9.6" text-anchor="end" dominant-baseline="central" fill="#000" stroke="#000" stroke-width="0.22" font-family="Liberation Serif, serif" font-weight="bold">0</text>
<line x1="609.4" y1="412.7" x2="611.4" y2="412.7" stroke="#3a3a3a" stroke-width="0.95"/>
<line x1="607.9" y1="400.4" x2="611.4" y2="400.4" stroke="#3a3a3a" stroke-width="0.95"/>
<text x="605.6" y="400.4" font-size="9.6" text-anchor="end" dominant-baseline="central" fill="#000" stroke="#000" stroke-width="0.22" font-family="Liberation Serif, serif" font-weight="bold">100</text>
<line x1="609.4" y1="388.1" x2="611.4" y2="388.1" stroke="#3a3a3a" stroke-width="0.95"/>
<line x1="607.9" y1="375.7" x2="611.4" y2="375.7" stroke="#3a3a3a" stroke-width="0.95"/>
<text x="605.6" y="375.7" font-size="9.6" text-anchor="end" dominant-baseline="central" fill="#000" stroke="#000" stroke-width="0.22" font-family="Liberation Serif, serif" font-weight="bold">200</text>
<line x1="609.4" y1="363.4" x2="611.4" y2="363.4" stroke="#3a3a3a" stroke-width="0.95"/>
<line x1="607.9" y1="351.1" x2="611.4" y2="351.1" stroke="#3a3a3a" stroke-width="0.95"/>
<text x="605.6" y="351.1" font-size="9.6" text-anchor="end" dominant-baseline="central" fill="#000" stroke="#000" stroke-width="0.22" font-family="Liberation Serif, serif" font-weight="bold">300</text>
<line x1="609.4" y1="338.8" x2="611.4" y2="338.8" stroke="#3a3a3a" stroke-width="0.95"/>
<line x1="607.9" y1="326.5" x2="611.4" y2="326.5" stroke="#3a3a3a" stroke-width="0.95"/>
<text x="605.6" y="326.5" font-size="9.6" text-anchor="end" dominant-baseline="central" fill="#000" stroke="#000" stroke-width="0.22" font-family="Liberation Serif, serif" font-weight="bold">400</text>
<line x1="609.4" y1="314.2" x2="611.4" y2="314.2" stroke="#3a3a3a" stroke-width="0.95"/>
<line x1="607.9" y1="301.9" x2="611.4" y2="301.9" stroke="#3a3a3a" stroke-width="0.95"/>
<text x="605.6" y="301.9" font-size="9.6" text-anchor="end" dominant-baseline="central" fill="#000" stroke="#000" stroke-width="0.22" font-family="Liberation Serif, serif" font-weight="bold">500</text>
<line x1="609.4" y1="289.5" x2="611.4" y2="289.5" stroke="#3a3a3a" stroke-width="0.95"/>
<line x1="607.9" y1="277.2" x2="611.4" y2="277.2" stroke="#3a3a3a" stroke-width="0.95"/>
<text x="605.6" y="277.2" font-size="9.6" text-anchor="end" dominant-baseline="central" fill="#000" stroke="#000" stroke-width="0.22" font-family="Liberation Serif, serif" font-weight="bold">600</text>
<line x1="609.4" y1="264.9" x2="611.4" y2="264.9" stroke="#3a3a3a" stroke-width="0.95"/>
<line x1="607.9" y1="252.6" x2="611.4" y2="252.6" stroke="#3a3a3a" stroke-width="0.95"/>
<text x="605.6" y="252.6" font-size="9.6" text-anchor="end" dominant-baseline="central" fill="#000" stroke="#000" stroke-width="0.22" font-family="Liberation Serif, serif" font-weight="bold">700</text>
<line x1="609.4" y1="240.3" x2="611.4" y2="240.3" stroke="#3a3a3a" stroke-width="0.95"/>
<line x1="833.8000000000001" y1="406.5" x2="835.6" y2="406.5" stroke="#3a3a3a" stroke-width="0.9"/>
<line x1="832.4" y1="388.1" x2="835.6" y2="388.1" stroke="#3a3a3a" stroke-width="0.9"/>
<line x1="833.8000000000001" y1="369.6" x2="835.6" y2="369.6" stroke="#3a3a3a" stroke-width="0.9"/>
<line x1="832.4" y1="351.1" x2="835.6" y2="351.1" stroke="#3a3a3a" stroke-width="0.9"/>
<line x1="833.8000000000001" y1="332.6" x2="835.6" y2="332.6" stroke="#3a3a3a" stroke-width="0.9"/>
<line x1="832.4" y1="314.2" x2="835.6" y2="314.2" stroke="#3a3a3a" stroke-width="0.9"/>
<line x1="833.8000000000001" y1="295.7" x2="835.6" y2="295.7" stroke="#3a3a3a" stroke-width="0.9"/>
<line x1="832.4" y1="277.2" x2="835.6" y2="277.2" stroke="#3a3a3a" stroke-width="0.9"/>
<line x1="833.8000000000001" y1="258.8" x2="835.6" y2="258.8" stroke="#3a3a3a" stroke-width="0.9"/>
<rect x="624.7" y="317.9" width="14.4" height="107.1" fill="url(#hatch)" stroke="#3a2408" stroke-width="0.6"/>
<rect x="639.1" y="338.3" width="14.4" height="86.7" fill="#74aedb" stroke="#3b4d5c" stroke-width="0.8"/>
<line x1="639.1" y1="317.9" x2="651.5" y2="317.9" stroke="#222" stroke-width="1" stroke-dasharray="1 1"/>
<line x1="646.3" y1="317.9" x2="646.3" y2="334.3" stroke="#222" stroke-width="1" stroke-dasharray="1 1"/>
<polygon points="646.3,338.3 644.1,333.3 648.5,333.3" fill="#111"/>
<text x="637.3" y="436.0" font-size="9.6" text-anchor="middle" dominant-baseline="central" fill="#000" stroke="#000" stroke-width="0.22" font-family="Liberation Serif, serif" font-weight="bold">0.005</text>
<line x1="683.7" y1="425" x2="683.7" y2="428.2" stroke="#3a3a3a" stroke-width="0.95"/>
<rect x="669.3" y="304.8" width="14.4" height="120.2" fill="url(#hatch)" stroke="#3a2408" stroke-width="0.6"/>
<rect x="683.7" y="378.2" width="14.4" height="46.8" fill="#74aedb" stroke="#3b4d5c" stroke-width="0.8"/>
<line x1="683.7" y1="304.8" x2="696.1" y2="304.8" stroke="#222" stroke-width="1" stroke-dasharray="1 1"/>
<line x1="690.9" y1="304.8" x2="690.9" y2="374.2" stroke="#222" stroke-width="1" stroke-dasharray="1 1"/>
<polygon points="690.9,378.2 688.7,373.2 693.1,373.2" fill="#111"/>
<text x="685.6" y="436.2" font-size="9.6" text-anchor="middle" dominant-baseline="central" fill="#000" stroke="#000" stroke-width="0.22" font-family="Liberation Serif, serif" font-weight="bold">1.5</text>
<rect x="730.7" y="261.2" width="14.4" height="163.8" fill="url(#hatch)" stroke="#3a2408" stroke-width="0.6"/>
<rect x="745.1" y="355.5" width="14.4" height="69.5" fill="#74aedb" stroke="#3b4d5c" stroke-width="0.8"/>
<line x1="745.1" y1="261.2" x2="757.5" y2="261.2" stroke="#222" stroke-width="1" stroke-dasharray="1 1"/>
<line x1="752.3" y1="261.2" x2="752.3" y2="351.5" stroke="#222" stroke-width="1" stroke-dasharray="1 1"/>
<polygon points="752.3,355.5 750.1,350.5 754.5,350.5" fill="#111"/>
<text x="746.3" y="435.1" font-size="9.6" text-anchor="middle" dominant-baseline="central" fill="#000" stroke="#000" stroke-width="0.22" font-family="Liberation Serif, serif" font-weight="bold">1000</text>
<line x1="808.6" y1="425" x2="808.6" y2="428.2" stroke="#3a3a3a" stroke-width="0.95"/>
<rect x="794.2" y="260.7" width="14.4" height="164.3" fill="url(#hatch)" stroke="#3a2408" stroke-width="0.6"/>
<rect x="808.6" y="351.1" width="14.4" height="73.9" fill="#74aedb" stroke="#3b4d5c" stroke-width="0.8"/>
<line x1="808.6" y1="260.7" x2="821.0" y2="260.7" stroke="#222" stroke-width="1" stroke-dasharray="1 1"/>
<line x1="815.8" y1="260.7" x2="815.8" y2="347.1" stroke="#222" stroke-width="1" stroke-dasharray="1 1"/>
<polygon points="815.8,351.1 813.6,346.1 818.0,346.1" fill="#111"/>
<text x="808.2" y="436.3" font-size="9.6" text-anchor="middle" dominant-baseline="central" fill="#000" stroke="#000" stroke-width="0.22" font-family="Liberation Serif, serif" font-weight="bold">2000</text>
<line x1="611.4" y1="425" x2="835.6" y2="425" stroke="#3a3a3a" stroke-width="1.15"/>
<line x1="633.8" y1="240.3" x2="633.8" y2="241.8" stroke="#3a3a3a" stroke-width="0.9"/>
<line x1="656.2" y1="240.3" x2="656.2" y2="242.70000000000002" stroke="#3a3a3a" stroke-width="0.9"/>
<line x1="678.7" y1="240.3" x2="678.7" y2="241.8" stroke="#3a3a3a" stroke-width="0.9"/>
<line x1="701.1" y1="240.3" x2="701.1" y2="242.70000000000002" stroke="#3a3a3a" stroke-width="0.9"/>
<line x1="723.5" y1="240.3" x2="723.5" y2="241.8" stroke="#3a3a3a" stroke-width="0.9"/>
<line x1="745.9" y1="240.3" x2="745.9" y2="242.70000000000002" stroke="#3a3a3a" stroke-width="0.9"/>
<line x1="768.3" y1="240.3" x2="768.3" y2="241.8" stroke="#3a3a3a" stroke-width="0.9"/>
<line x1="790.8" y1="240.3" x2="790.8" y2="242.70000000000002" stroke="#3a3a3a" stroke-width="0.9"/>
<line x1="813.2" y1="240.3" x2="813.2" y2="241.8" stroke="#3a3a3a" stroke-width="0.9"/>
<line x1="770.4" y1="425" x2="770.4" y2="426.6" stroke="#3a3a3a" stroke-width="0.8"/>
<line x1="782.4" y1="425" x2="782.4" y2="426.6" stroke="#3a3a3a" stroke-width="0.8"/>
<line x1="789.3" y1="425" x2="789.3" y2="426.6" stroke="#3a3a3a" stroke-width="0.8"/>
<line x1="794.2" y1="425" x2="794.2" y2="426.6" stroke="#3a3a3a" stroke-width="0.8"/>
<line x1="798.4" y1="425" x2="798.4" y2="426.6" stroke="#3a3a3a" stroke-width="0.8"/>
<line x1="801.6" y1="425" x2="801.6" y2="426.6" stroke="#3a3a3a" stroke-width="0.8"/>
<line x1="804.6" y1="425" x2="804.6" y2="426.6" stroke="#3a3a3a" stroke-width="0.8"/>
<rect x="623.2" y="251.1" width="20.8" height="10" fill="url(#hatch)" stroke="#3a2408" stroke-width="0.6"/>
<rect x="623.2" y="263.1" width="20.8" height="9.3" fill="#74aedb" stroke="#3b4d5c" stroke-width="0.8"/>
<text x="646.9" y="256.1" font-size="9.5" text-anchor="start" dominant-baseline="central" fill="#000" stroke="#000" stroke-width="0.22" font-family="Liberation Serif, serif" font-weight="bold">Dry</text>
<text x="646.9" y="268.1" font-size="9.5" text-anchor="start" dominant-baseline="central" fill="#000" stroke="#000" stroke-width="0.22" font-family="Liberation Serif, serif" font-weight="bold">Wet</text>
<text x="727.6" y="452.9" font-size="12.2" text-anchor="middle" dominant-baseline="central" fill="#000" stroke="#000" stroke-width="0.22" font-family="Liberation Serif, serif" font-weight="bold">Strain rates (/s)</text>
<text x="582.5" y="332.8" font-size="12.2" text-anchor="middle" dominant-baseline="central" fill="#000" stroke="#000" stroke-width="0.22" font-family="Liberation Serif, serif" font-weight="bold" transform="rotate(-90 582.5 332.8)">Posterior stiffness</text>
</svg>
</body></html>
